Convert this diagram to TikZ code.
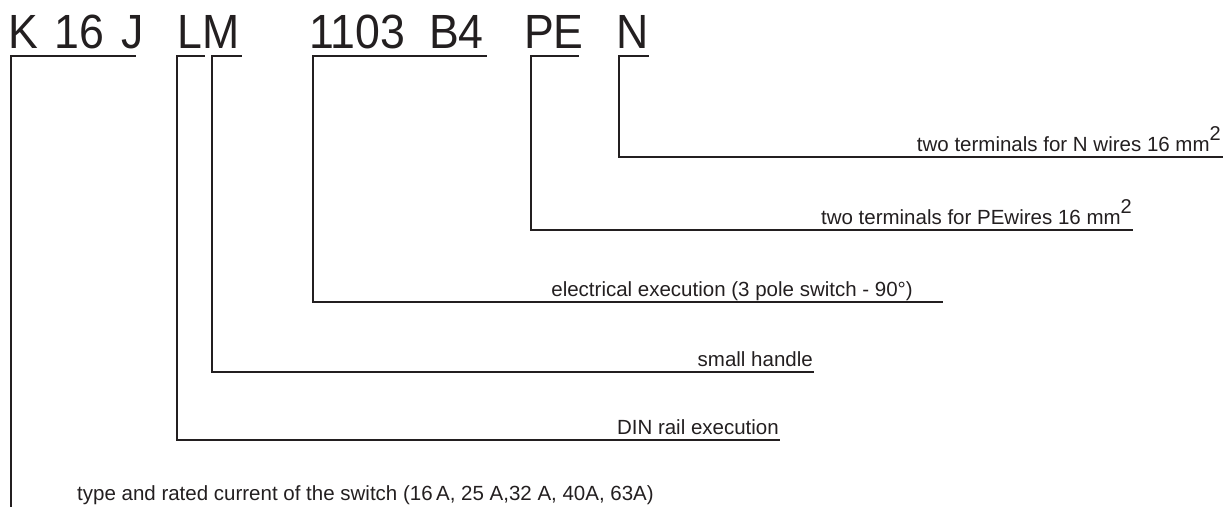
\documentclass[tikz,border=0pt]{standalone}
\usepackage{fontspec}
\setmainfont{Liberation Sans}
\newfontfamily\titlefamily[FakeStretch=0.93,WordSpace=1.35]{Liberation Sans}
\definecolor{ink}{HTML}{231F20}
\newcommand{\sqtwo}{\raisebox{0.5em}{\fontsize{20}{20}\selectfont 2}}
\newcommand{\labfont}{\fontsize{20.5}{20.5}\selectfont}
\begin{document}
\begin{tikzpicture}[x=1pt,y=-1pt,
  title/.style={anchor=base west,inner sep=0pt,text=ink,font=\titlefamily\fontsize{48}{48}\selectfont},
  lab/.style={anchor=base east,inner sep=0pt,text=ink,font=\labfont},
  wire/.style={draw=ink,line width=2.2pt,line cap=rect,line join=miter}]
\useasboundingbox (0,0) rectangle (1230,506);
% title groups
\node[title] (tK) at (8,48) {K 16 J};
\node[title] (tLM) at (177,48) {LM};
\node[title] (t1103) at (309,48) {1103};
\node[title] (tB4) at (429,48) {B4};
\node[title] (tPE) at (524,48) {PE};
\node[title] (tN) at (616,48) {N};
% bracket corners
\coordinate (kR) at (135,56); \coordinate (kL) at (11,56); \coordinate (kB) at (11,506);
\coordinate (lR) at (204,56); \coordinate (lL) at (177,56); \coordinate (lE) at (779,440);
\coordinate (mR) at (241,56); \coordinate (mL) at (212,56); \coordinate (mE) at (813,372);
\coordinate (eR) at (486,56); \coordinate (eL) at (313,56); \coordinate (eE) at (942,302);
\coordinate (pR) at (578,56); \coordinate (pL) at (531,56); \coordinate (pE) at (1132,230);
\coordinate (nR) at (648,56); \coordinate (nL) at (619,56); \coordinate (nE) at (1222,157);
% labels
\node[lab] (labN) at (1221,151) {two terminals for N wires 16 mm\sqtwo};
\node[lab] (labPE) at (1132,224) {two terminals for PEwires 16 mm\sqtwo};
\node[lab] (labE) at (913,296) {electrical execution (3 pole switch - 90°)};
\node[lab] (labM) at (813,366) {small handle};
\node[lab] (labL) at (779,434) {DIN rail execution};
\node[lab,anchor=base west] (labK) at (77,500) {type and rated current of the switch (16\,A, 25 A,32 A, 40A, 63A)};
% connectors
\draw[wire] (kR) -- (kL) -- (kB);
\draw[wire] (lR) -- (lL) |- (lE);
\draw[wire] (mR) -- (mL) |- (mE);
\draw[wire] (eR) -- (eL) |- (eE);
\draw[wire] (pR) -- (pL) |- (pE);
\draw[wire] (nR) -- (nL) |- (nE);
\end{tikzpicture}
\end{document}
